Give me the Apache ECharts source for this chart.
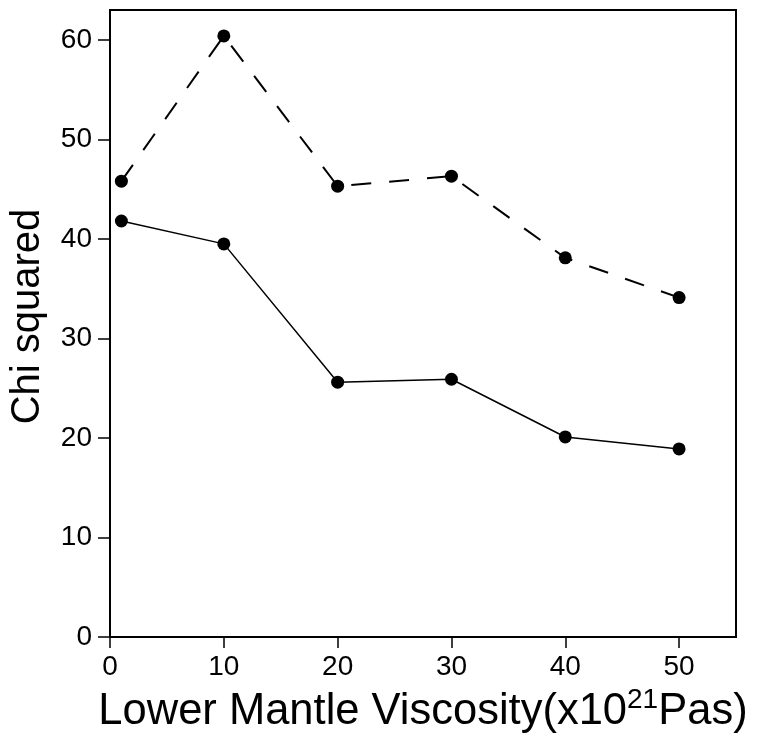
<!DOCTYPE html>
<html>
<head>
<meta charset="utf-8">
<script src="https://cdn.jsdelivr.net/npm/echarts@6/dist/echarts.min.js"></script>
<style>html,body{margin:0;padding:0;background:#fff}#c{width:762px;height:735px}</style>
</head>
<body>
<div id="c"></div>
<script>
var viscosity = [1, 10, 20, 30, 40, 50];
var chiDashed = [45.8, 60.4, 45.3, 46.3, 38.1, 34.1];
var chiSolid = [41.8, 39.5, 25.6, 25.9, 20.1, 18.9];
var xTicks = [0, 10, 20, 30, 40, 50];
var yTicks = [0, 10, 20, 30, 40, 50, 60];

function pairs(xs, ys) { return xs.map(function (x, i) { return [x, ys[i]]; }); }

var font = 'Liberation Sans, Arial, sans-serif';
var chart = echarts.init(document.getElementById('c'), null, { renderer: 'canvas' });
chart.setOption({
  animation: false,
  backgroundColor: '#fff',
  grid: { left: 110, right: 26, top: 10, bottom: 98, show: true, borderColor: '#000', borderWidth: 2, backgroundColor: 'transparent', containLabel: false, outerBoundsMode: 'none' },
  xAxis: {
    type: 'value', min: 0, max: 55, interval: 10,
    name: '{t|Lower Mantle Viscosity(x10}{s|21}{t|Pas)}',
    nameLocation: 'middle', nameGap: 42,
    nameTextStyle: {
      rich: {
        t: { fontFamily: font, fontSize: 43.5, color: '#000', verticalAlign: 'bottom', lineHeight: 48 },
        s: { fontFamily: font, fontSize: 28, color: '#000', verticalAlign: 'top', lineHeight: 48, padding: [0, 0, 22, 0] }
      }
    },
    axisLine: { show: true, lineStyle: { color: '#000', width: 2 } },
    axisTick: { show: true, length: 11, lineStyle: { color: '#000', width: 1.5 }, customValues: xTicks },
    axisLabel: { color: '#000', fontFamily: font, fontSize: 28, margin: 16, customValues: xTicks },
    splitLine: { show: false }
  },
  yAxis: {
    type: 'value', min: 0, max: 63, interval: 10,
    name: 'Chi squared', nameLocation: 'middle', nameGap: 62,
    nameTextStyle: { fontFamily: font, fontSize: 40, color: '#000', padding: [0, 0, 0, 14] },
    axisLine: { show: true, lineStyle: { color: '#000', width: 2 } },
    axisTick: { show: true, length: 12, lineStyle: { color: '#000', width: 1.5 }, customValues: yTicks },
    axisLabel: { color: '#000', fontFamily: font, fontSize: 28, margin: 18, customValues: yTicks },
    splitLine: { show: false }
  },
  series: [
    {
      type: 'line', data: pairs(viscosity, chiDashed),
      symbol: 'circle', symbolSize: 13,
      itemStyle: { color: '#000' },
      lineStyle: { color: '#000', width: 2, type: [20, 18] }
    },
    {
      type: 'line', data: pairs(viscosity, chiSolid),
      symbol: 'circle', symbolSize: 13,
      itemStyle: { color: '#000' },
      lineStyle: { color: '#000', width: 1.5, type: 'solid' }
    }
  ]
});
</script>
</body>
</html>
